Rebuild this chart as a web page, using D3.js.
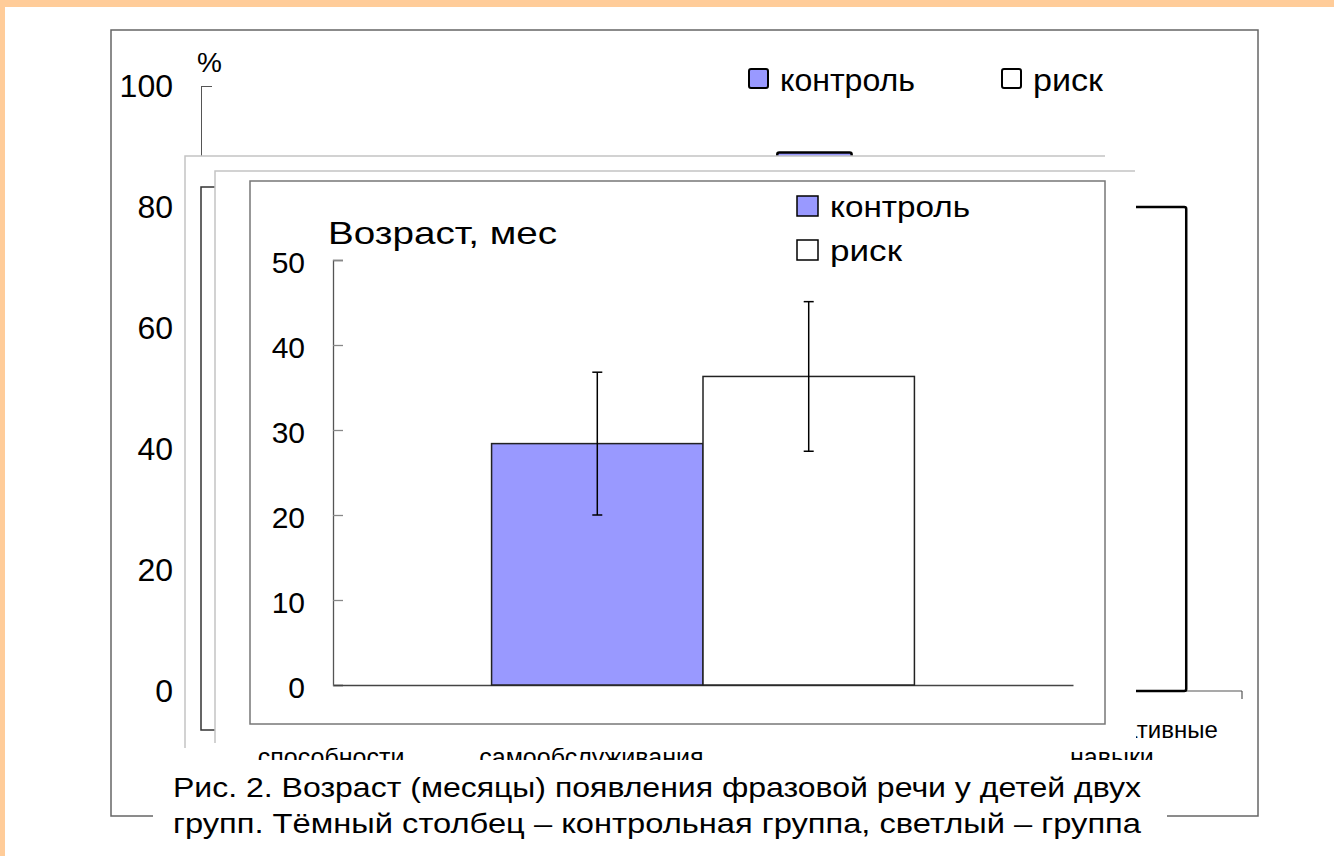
<!DOCTYPE html>
<html>
<head>
<meta charset="utf-8">
<script src="https://cdn.jsdelivr.net/npm/d3@7"></script>
<style>
  html, body { margin: 0; padding: 0; background: #fff; overflow: hidden; }
</style>
</head>
<body>
<div id="chart"></div>
<script>
// front chart: age of phrase speech onset
const series = ["контроль", "риск"];
const seriesColors = ["#9999FF", "#FFFFFF"];
const ageMeans = [28.4, 36.3];
const ageErrors = [8.4, 8.8];
const ageTicks = [0, 10, 20, 30, 40, 50];

// back chart (percent), mostly hidden under the slide panels
const backCategories = ["k1", "k2", "k3", "k4"];
const backLabelLine1 = ["", "", "", "коммуникативные"];
const backLabelLine2 = ["способности", "самообслуживания", "", "навыки"];
const backControl = [null, null, 89, null];
const backRisk = [null, null, null, 80];
const percentTicks = [0, 20, 40, 60, 80, 100];

const captionLines = [
  "Рис. 2. Возраст (месяцы) появления фразовой речи у детей двух",
  "групп. Тёмный столбец – контрольная группа, светлый – группа",
];

const W = 1334, H = 856;
const FONT = "'Liberation Sans', Arial, sans-serif";

const svg = d3.select("#chart").append("svg")
  .attr("width", W).attr("height", H)
  .style("font-family", FONT);

svg.append("rect").attr("width", W).attr("height", H).attr("fill", "#fff");
// orange slide border
svg.append("rect").attr("width", W).attr("height", 7).attr("fill", "#FFCC99");
svg.append("rect").attr("width", 5).attr("height", H).attr("fill", "#FFCC99");

// ---------- back chart ----------
const back = svg.append("g");
back.append("rect")
  .attr("x", 111).attr("y", 30).attr("width", 1147).attr("height", 786)
  .attr("fill", "none").attr("stroke", "#666").attr("stroke-width", 1.5);

const yBack = d3.scaleLinear().domain([0, 100]).range([691, 86]);
const xBack = d3.scaleBand().domain(backCategories).range([201, 1242])
  .paddingInner(0.4286).paddingOuter(0.2143);
const xBackSeries = d3.scaleBand().domain(series).range([0, xBack.bandwidth()]);

const backYAxis = back.append("g")
  .attr("transform", "translate(201,0)")
  .call(d3.axisLeft(yBack).tickValues(percentTicks).tickSize(-11).tickSizeOuter(-11).tickPadding(28));
backYAxis.selectAll("path, line").attr("stroke", "#555");
backYAxis.selectAll("text").attr("font-size", 32).attr("fill", "#000").attr("font-family", FONT);

back.append("text").attr("x", 197).attr("y", 72)
  .attr("font-size", 28).text("%");

// x axis line with category boundary ticks
back.append("line")
  .attr("x1", 201).attr("x2", 1242).attr("y1", yBack(0)).attr("y2", yBack(0))
  .attr("stroke", "#555").attr("stroke-width", 1.2);
back.selectAll(".bound").data(d3.range(backCategories.length + 1)).enter()
  .append("line")
  .attr("x1", (i) => 201 + i * xBack.step()).attr("x2", (i) => 201 + i * xBack.step())
  .attr("y1", yBack(0)).attr("y2", yBack(0) + 8)
  .attr("stroke", "#555").attr("stroke-width", 1.2);

const backBars = [];
backCategories.forEach((c, i) => {
  if (backControl[i] != null) backBars.push({ cat: c, s: 0, v: backControl[i] });
  if (backRisk[i] != null) backBars.push({ cat: c, s: 1, v: backRisk[i] });
});
back.selectAll(".bbar").data(backBars).enter().append("rect")
  .attr("x", (d) => xBack(d.cat) + xBackSeries(series[d.s]))
  .attr("width", xBackSeries.bandwidth())
  .attr("y", (d) => yBack(d.v))
  .attr("height", (d) => yBack(0) - yBack(d.v))
  .attr("rx", 2)
  .attr("fill", (d) => seriesColors[d.s])
  .attr("stroke", "#000").attr("stroke-width", 2.5);

back.selectAll(".bl1").data(backCategories).enter().append("text")
  .attr("x", (d) => xBack(d) + xBack.bandwidth() / 2 + 106)
  .attr("y", 738).attr("text-anchor", "end").attr("font-size", 24)
  .text((d, i) => backLabelLine1[i]);
back.selectAll(".bl2").data(backCategories).enter().append("text")
  .attr("x", (d) => xBack(d) + xBack.bandwidth() / 2)
  .attr("y", 766).attr("text-anchor", "middle").attr("font-size", 25)
  .text((d, i) => backLabelLine2[i]);

// back legend
const backLegX = [749, 1002];
const backLegW = [135, 70];
series.forEach((s, i) => {
  back.append("rect").attr("x", backLegX[i]).attr("y", 69).attr("width", 19).attr("height", 19)
    .attr("rx", 2).attr("fill", seriesColors[i]).attr("stroke", "#000").attr("stroke-width", 2);
  back.append("text").attr("x", backLegX[i] + 31).attr("y", 91)
    .attr("font-size", 32).attr("textLength", backLegW[i]).attr("lengthAdjust", "spacingAndGlyphs")
    .text(s);
});

// ---------- layered panels ----------
const panels = svg.append("g");
panels.append("rect").attr("x", 185).attr("y", 156).attr("width", 920).attr("height", 592).attr("fill", "#fff");
panels.append("path").attr("d", "M185,748V156H1105").attr("fill", "none").attr("stroke", "#c4c4c4").attr("stroke-width", 1.5);
panels.append("path").attr("d", "M215,187H201V730H215").attr("fill", "none").attr("stroke", "#333").attr("stroke-width", 1.5);
panels.append("rect").attr("x", 215).attr("y", 171).attr("width", 921).attr("height", 572).attr("fill", "#fff");
panels.append("path").attr("d", "M215,743V171H1135").attr("fill", "none").attr("stroke", "#c4c4c4").attr("stroke-width", 1.5);
panels.append("rect").attr("x", 250).attr("y", 181).attr("width", 855).attr("height", 543)
  .attr("fill", "#fff").attr("stroke", "#777").attr("stroke-width", 1.5);

// ---------- front chart ----------
const front = svg.append("g");
const yAge = d3.scaleLinear().domain([0, 50]).range([685, 260]);
const xGroup = d3.scaleBand().domain([""]).range([333, 1073])
  .paddingInner(0.4286).paddingOuter(0.2143);
const xSeries = d3.scaleBand().domain(series).range([0, xGroup.bandwidth()]);

front.append("text").attr("x", 328).attr("y", 244)
  .attr("font-size", 32).attr("textLength", 229).attr("lengthAdjust", "spacingAndGlyphs")
  .text("Возраст, мес");

const yAxis = front.append("g")
  .attr("transform", "translate(333,0)")
  .call(d3.axisLeft(yAge).tickValues(ageTicks).tickSize(-10).tickSizeOuter(-10).tickPadding(28));
yAxis.select(".domain").attr("stroke", "#555").attr("stroke-width", 1.3);
yAxis.selectAll(".tick line").attr("stroke", "#888").attr("stroke-width", 1.3);
yAxis.selectAll("text").attr("font-size", 30).attr("fill", "#000").attr("font-family", FONT).attr("dy", "0.42em");

const xAxis = front.append("g")
  .attr("transform", `translate(0,${yAge(0)})`)
  .call(d3.axisBottom(xGroup).tickSize(0).tickSizeOuter(0).tickFormat(""));
xAxis.select(".domain").attr("stroke", "#444").attr("stroke-width", 1.3);

const ageData = series.map((s, i) => ({ s, i, v: ageMeans[i], e: ageErrors[i] }));
front.selectAll(".bar").data(ageData).enter().append("rect")
  .attr("x", (d) => xGroup("") + xSeries(d.s))
  .attr("width", xSeries.bandwidth())
  .attr("y", (d) => yAge(d.v))
  .attr("height", (d) => yAge(0) - yAge(d.v))
  .attr("fill", (d) => seriesColors[d.i])
  .attr("stroke", "#222").attr("stroke-width", 1.5);

// error bars
const err = front.selectAll(".err").data(ageData).enter().append("g")
  .attr("transform", (d) => `translate(${xGroup("") + xSeries(d.s) + xSeries.bandwidth() / 2},0)`);
err.append("line")
  .attr("y1", (d) => yAge(d.v + d.e)).attr("y2", (d) => yAge(d.v - d.e))
  .attr("stroke", "#000").attr("stroke-width", 1.5);
err.append("line")
  .attr("x1", -5).attr("x2", 5)
  .attr("y1", (d) => yAge(d.v + d.e)).attr("y2", (d) => yAge(d.v + d.e))
  .attr("stroke", "#000").attr("stroke-width", 1.5);
err.append("line")
  .attr("x1", -5).attr("x2", 5)
  .attr("y1", (d) => yAge(d.v - d.e)).attr("y2", (d) => yAge(d.v - d.e))
  .attr("stroke", "#000").attr("stroke-width", 1.5);

// front legend
const legW = [140, 72];
series.forEach((s, i) => {
  const y = 196 + i * 44;
  front.append("rect").attr("x", 797).attr("y", y).attr("width", 21).attr("height", 20)
    .attr("fill", seriesColors[i]).attr("stroke", "#000").attr("stroke-width", 1.5);
  front.append("text").attr("x", 830).attr("y", y + 21)
    .attr("font-size", 30).attr("textLength", legW[i]).attr("lengthAdjust", "spacingAndGlyphs")
    .text(s);
});

// ---------- caption ----------
svg.append("rect").attr("x", 153).attr("y", 760).attr("width", 1014).attr("height", 96).attr("fill", "#fff");
svg.selectAll(".cap").data(captionLines).enter().append("text")
  .attr("x", 173).attr("y", (d, i) => 797 + i * 36)
  .attr("font-size", 28).attr("textLength", 968).attr("lengthAdjust", "spacingAndGlyphs")
  .text((d) => d);
</script>
</body>
</html>
